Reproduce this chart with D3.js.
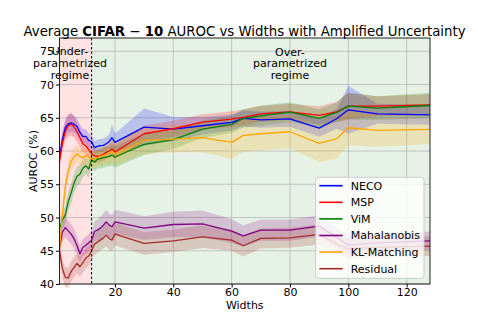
<!DOCTYPE html>
<html><head><meta charset="utf-8">
<script src="https://cdn.jsdelivr.net/npm/d3@7"></script>
<style>body{margin:0;background:#fff} svg{display:block} text{font-family:"DejaVu Sans",sans-serif}</style>
</head><body><svg id="c" width="478" height="319"></svg>
<script>
const widths = [1,2,3,4,5,6,7,8,9,10,11,12,13,14,15,16,17,18,19,20,30,40,50,60,64,70,80,90,96,100,110,128];
const seriesNames = ["NECO","MSP","ViM","Mahalanobis","KL-Matching","Residual"];
const seriesColors = ["blue","red","green","purple","orange","brown"];
const necoMean = [58.9,61.8,63.5,64.1,64.25,64.0,63.7,62.8,62.2,62.2,61.6,61.4,60.5,60.7,60.8,60.85,61.1,61.4,62.0,61.3,63.6,63.3,63.8,64.3,64.9,64.7,64.85,63.45,64.85,66.2,65.6,65.45];
const necoStd  = [1.0,1.2,1.3,1.4,1.4,1.3,1.2,1.2,1.1,1.1,1.1,1.0,1.0,1.0,1.0,1.0,1.0,1.1,2.0,1.3,2.8,1.8,1.3,1.2,1.2,1.2,1.2,1.3,1.5,3.6,1.5,1.5];
const mspMean  = [58.5,61.2,63.0,63.8,64.05,63.6,62.9,62.0,61.1,60.8,60.2,59.6,59.3,59.2,59.3,59.5,59.8,60.0,60.3,59.85,62.6,63.35,64.35,64.8,65.05,65.6,65.9,65.35,65.9,66.75,66.75,66.95];
const mspStd   = [1.2,1.4,1.5,1.6,1.7,1.6,1.5,1.4,1.3,1.2,1.2,1.1,1.0,1.0,1.0,1.0,1.0,1.0,1.2,1.1,1.2,1.2,1.2,1.2,1.2,1.2,1.2,1.4,1.5,2.0,1.5,1.6];
const vimMean  = [48.3,49.6,50.4,52.4,53.7,55.2,56.2,56.5,57.4,57.8,57.3,58.7,58.3,58.8,58.85,59.0,59.1,59.2,59.4,59.1,61.0,61.7,63.3,64.0,64.9,65.3,65.85,64.9,65.8,66.75,66.45,66.85];
const vimStd   = [1.2,1.3,1.4,1.5,1.5,1.5,1.5,1.4,1.4,1.3,1.3,1.3,1.4,1.4,1.5,1.5,1.5,1.5,1.6,1.6,1.6,1.4,1.3,1.3,1.4,1.5,1.5,1.4,1.5,2.0,1.8,1.9];
const mahaMean = [45.5,47.8,48.5,48.0,47.5,46.8,45.8,44.5,45.5,45.8,46.2,46.6,47.9,48.1,48.4,48.8,49.35,48.85,48.6,49.35,48.4,48.95,49.05,47.95,47.25,48.1,48.1,48.7,47.0,45.85,46.2,46.5];
const mahaStd  = [1.2,1.4,1.5,1.5,1.5,1.5,1.4,1.3,1.3,1.3,1.3,1.3,1.5,1.6,1.7,1.8,1.8,1.8,1.8,1.8,1.8,1.9,2.0,1.8,1.6,1.6,1.6,1.6,1.5,1.4,1.4,1.4];
const klMean   = [45.3,50.6,54.6,57.0,58.5,59.1,59.6,59.2,59.0,59.35,59.1,58.7,58.9,59.0,59.2,59.35,59.5,59.6,60.0,59.5,61.6,61.8,62.0,61.3,62.35,62.6,62.9,61.15,61.85,63.5,63.1,63.25];
const klStd    = [1.0,1.2,1.3,1.4,1.4,1.4,1.3,1.3,1.3,1.3,1.3,1.3,1.3,1.4,1.5,1.5,1.5,1.6,1.7,1.7,2.0,2.0,2.2,2.5,2.5,2.5,2.5,2.8,3.0,2.6,2.5,2.2];
const resMean  = [45.1,42.3,41.0,40.9,41.9,42.5,43.1,42.6,43.2,43.9,44.2,45.0,46.0,46.3,46.6,46.9,47.35,46.85,46.6,47.5,46.1,46.5,47.1,46.6,45.75,46.85,46.95,47.45,46.0,45.3,45.5,45.7];
const resStd   = [1.2,1.4,1.5,1.5,1.5,1.5,1.5,1.5,1.5,1.5,1.5,1.5,1.6,1.6,1.6,1.6,1.7,1.7,1.7,1.7,1.7,1.7,1.7,1.6,1.6,1.5,1.5,1.5,1.5,1.5,1.5,1.5];
const xTicks = [20,40,60,80,100,120];
const yTicks = [40,45,50,55,60,65,70,75];
const boundaryWidth = 12;
const underLabel = ["Under-","parametrized","regime"];
const overLabel = ["Over-","parametrized","regime"];

const means = [necoMean,mspMean,vimMean,mahaMean,klMean,resMean];
const stds = [necoStd,mspStd,vimStd,mahaStd,klStd,resStd];

const L=59.5, R=430, T=38, B=284;
const svg = d3.select("#c");
const x = d3.scaleLinear().domain([1,128]).range([L,R]);
const y = d3.scaleLinear().domain([40,77]).range([B,T]);

// regime backgrounds
svg.append("rect").attr("x",L).attr("y",T).attr("width",x(boundaryWidth)-L).attr("height",B-T)
  .attr("fill","rgb(255,0,0)").attr("fill-opacity",0.11);
svg.append("rect").attr("x",x(boundaryWidth)).attr("y",T).attr("width",R-x(boundaryWidth)).attr("height",B-T)
  .attr("fill","rgb(0,128,0)").attr("fill-opacity",0.1);

// grid
const g = svg.append("g");
g.selectAll(".gx").data(xTicks).enter().append("line")
  .attr("x1",d=>x(d)).attr("x2",d=>x(d)).attr("y1",T).attr("y2",B)
  .attr("stroke","#b0b0b0").attr("stroke-opacity",0.7).attr("stroke-width",1);
g.selectAll(".gy").data(yTicks).enter().append("line")
  .attr("x1",L).attr("x2",R).attr("y1",d=>y(d)).attr("y2",d=>y(d))
  .attr("stroke","#b0b0b0").attr("stroke-opacity",0.7).attr("stroke-width",1);

const area = d3.area().x((d,i)=>x(widths[i])).y0(d=>y(d[0]-d[1])).y1(d=>y(d[0]+d[1]));
const line = d3.line().x((d,i)=>x(widths[i])).y(d=>y(d));

const plotG = svg.append("g");
means.forEach((m,k)=>{
  plotG.append("path").datum(m.map((v,i)=>[v,stds[k][i]])).attr("d",area)
    .attr("fill",seriesColors[k]).attr("fill-opacity",0.2).attr("stroke","none");
});
means.forEach((m,k)=>{
  plotG.append("path").datum(m).attr("d",line).attr("fill","none")
    .attr("stroke",seriesColors[k]).attr("stroke-width",1.3).attr("stroke-linejoin","round");
});

// boundary dashed line
svg.append("line").attr("x1",x(boundaryWidth)).attr("x2",x(boundaryWidth)).attr("y1",T).attr("y2",B)
  .attr("stroke","#000").attr("stroke-width",1).attr("stroke-dasharray","2.5,2");

// regime labels
const ul = svg.append("text").attr("text-anchor","middle").attr("font-size",11).attr("fill","#000");
underLabel.forEach((t,i)=>ul.append("tspan").attr("x",x(4.6)).attr("y",54.6+i*12.4).text(t));
const ol = svg.append("text").attr("text-anchor","middle").attr("font-size",11).attr("fill","#000");
overLabel.forEach((t,i)=>ol.append("tspan").attr("x",x(80)).attr("y",55.6+i*11.8).text(t));

// frame
svg.append("rect").attr("x",L).attr("y",T).attr("width",R-L).attr("height",B-T)
  .attr("fill","none").attr("stroke","#222").attr("stroke-width",1);

// axes
const xa = svg.append("g").attr("transform",`translate(0,${B})`)
  .call(d3.axisBottom(x).tickValues(xTicks).tickSize(3.5).tickPadding(1));
const ya = svg.append("g").attr("transform",`translate(${L},0)`)
  .call(d3.axisLeft(y).tickValues(yTicks).tickSize(3.5).tickPadding(2));
[xa,ya].forEach(a=>{a.select(".domain").remove();
  a.selectAll("text").attr("font-family","DejaVu Sans").attr("font-size",11).attr("fill","#000");
  a.selectAll("line").attr("stroke","#000");});

svg.append("text").attr("x",(L+R)/2).attr("y",309).attr("text-anchor","middle").attr("font-size",11).text("Widths");
svg.append("text").attr("transform",`translate(37,${(T+B)/2}) rotate(-90)`).attr("text-anchor","middle").attr("font-size",11).text("AUROC (%)");

// title
const title = svg.append("text").attr("x",244.5).attr("y",36).attr("text-anchor","middle").attr("font-size",13.3).attr("fill","#000");
title.append("tspan").text("Average  ");
title.append("tspan").attr("font-weight","bold").text("CIFAR");
title.append("tspan").text(" \u2212 ");
title.append("tspan").attr("font-weight","bold").text("10");
title.append("tspan").text(" AUROC vs Widths with Amplified Uncertainty");

// legend
const lg = svg.append("g").attr("transform","translate(315.7,177.3)");
lg.append("rect").attr("width",108.3).attr("height",101).attr("rx",3)
  .attr("fill","#fff").attr("fill-opacity",0.8).attr("stroke","#ccc").attr("stroke-width",1);
seriesNames.forEach((n,k)=>{
  const yy = 8.4 + k*16.6;
  lg.append("line").attr("x1",3.6).attr("x2",27).attr("y1",yy).attr("y2",yy)
    .attr("stroke",seriesColors[k]).attr("stroke-width",1.6);
  lg.append("text").attr("x",35).attr("y",yy+4).attr("font-size",11).attr("fill","#000").text(n);
});
</script></body></html>
